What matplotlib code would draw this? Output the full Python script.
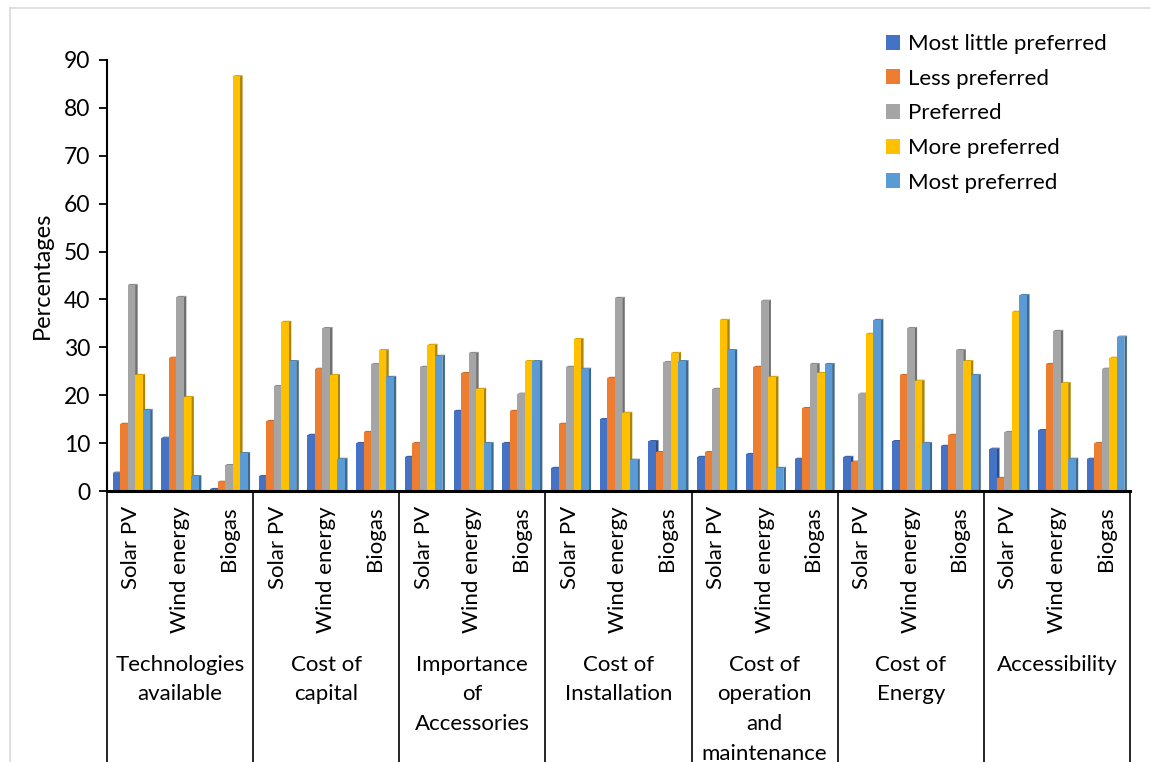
import numpy as np
import matplotlib
matplotlib.use("Agg")
import matplotlib.pyplot as plt
from matplotlib.patches import Polygon, Patch
from matplotlib.lines import Line2D
from matplotlib.colors import to_rgb

plt.rcParams['font.family'] = ['Lato', 'DejaVu Sans']

categories = ["Technologies\navailable", "Cost of\ncapital", "Importance\nof\nAccessories",
              "Cost of\nInstallation", "Cost of\noperation\nand\nmaintenance",
              "Cost of\nEnergy", "Accessibility"]
technologies = ["Solar PV", "Wind energy", "Biogas"]
series_names = ["Most little preferred", "Less preferred", "Preferred",
                "More preferred", "Most preferred"]

# values per category, in order Solar PV / Wind energy / Biogas
most_little = [3.8, 11.1, 0.4, 3.1, 11.7, 10.0, 7.1, 16.7, 10.0, 4.8, 15.0, 10.4,
               7.1, 7.7, 6.7, 7.1, 10.4, 9.4, 8.8, 12.7, 6.7]
less = [14.0, 27.8, 1.9, 14.6, 25.5, 12.3, 10.0, 24.6, 16.7, 14.0, 23.6, 8.1,
        8.1, 25.9, 17.3, 6.1, 24.2, 11.7, 2.7, 26.5, 10.0]
preferred = [43.0, 40.5, 5.4, 21.9, 34.0, 26.5, 25.9, 28.8, 20.3, 25.9, 40.3, 26.9,
             21.3, 39.7, 26.5, 20.3, 34.0, 29.4, 12.3, 33.4, 25.5]
more = [24.2, 19.6, 86.6, 35.3, 24.2, 29.4, 30.5, 21.3, 27.1, 31.7, 16.3, 28.8,
        35.7, 23.8, 24.6, 32.8, 23.0, 27.1, 37.4, 22.5, 27.8]
most = [16.9, 3.1, 7.9, 27.1, 6.7, 23.8, 28.2, 10.0, 27.1, 25.5, 6.5, 27.1,
        29.4, 4.8, 26.5, 35.7, 10.0, 24.2, 40.9, 6.7, 32.2]

colors = ["#4472C4", "#ED7D31", "#A5A5A5", "#FFC000", "#5B9BD5"]
data = [most_little, less, preferred, more, most]


def shade(c, f):
    return tuple(v * f for v in to_rgb(c))


fig = plt.figure(figsize=(11.5, 7.62), dpi=100)
ax = fig.add_axes([107 / 1150, 1 - 491 / 762, 1023 / 1150, 431 / 762])

n = len(most_little)
w = 0.154       # bar face width
d = 0.052       # depth offset in x
dy = 0.25       # depth offset in y
start = 0.5 - 2.5 * w

for i in range(n):
    for k in range(5):
        h = data[k][i]
        x0 = i + start + k * w
        x1 = x0 + w
        # side face and top cap for the 3d look
        ax.add_patch(Polygon([(x1, 0), (x1 + d, dy), (x1 + d, h + dy), (x1, h)],
                             closed=True, fc=shade(colors[k], 0.68), ec='none', zorder=2))
        ax.add_patch(Polygon([(x0, h), (x1, h), (x1 + d, h + dy), (x0 + d, h + dy)],
                             closed=True, fc=shade(colors[k], 0.85), ec='none', zorder=2))
        ax.bar(x0, h, width=w, align='edge', color=colors[k], zorder=2, linewidth=0)

ax.set_xlim(0, n)
ax.set_ylim(0, 90)
ax.set_yticks(np.arange(0, 91, 10))
ax.set_xticks([])
ax.tick_params(axis='y', direction='out', length=6, width=1.3, labelsize=16.5,
               colors='black', pad=6)
for s in ['top', 'right']:
    ax.spines[s].set_visible(False)
ax.spines['left'].set_linewidth(1.5)
ax.spines['bottom'].set_linewidth(2.2)
ax.set_ylabel("Percentages", fontsize=17, labelpad=8)

# multi-level category axis below the plot
trans = ax.get_xaxis_transform()
for g in range(len(categories) + 1):
    ax.plot([3 * g, 3 * g], [0, -0.65], transform=trans, color='black', lw=1.2,
            clip_on=False)
for i in range(n):
    ax.text(i + 0.5, -0.035, technologies[i % 3], transform=trans, rotation=90,
            ha='center', va='top', fontsize=16)
for g, cat in enumerate(categories):
    ax.text(3 * g + 1.5, -0.38, cat, transform=trans, ha='center', va='top',
            fontsize=16, linespacing=1.6)

handles = [Patch(facecolor=c, edgecolor='none') for c in colors]
fig.legend(handles, series_names, loc='upper left', bbox_to_anchor=(886 / 1150, 1 - 34 / 762),
           frameon=False, fontsize=16, handlelength=0.65, handleheight=0.65,
           handletextpad=0.32, labelspacing=0.66, borderpad=0, borderaxespad=0)

# chart area outline
fig.add_artist(Line2D([10 / 1150, 1], [1 - 8 / 762] * 2, color='#d9d9d9', lw=1.2))
fig.add_artist(Line2D([10 / 1150] * 2, [0, 1 - 8 / 762], color='#d9d9d9', lw=1.2))

fig.savefig('out.png', dpi=100, facecolor='white')
